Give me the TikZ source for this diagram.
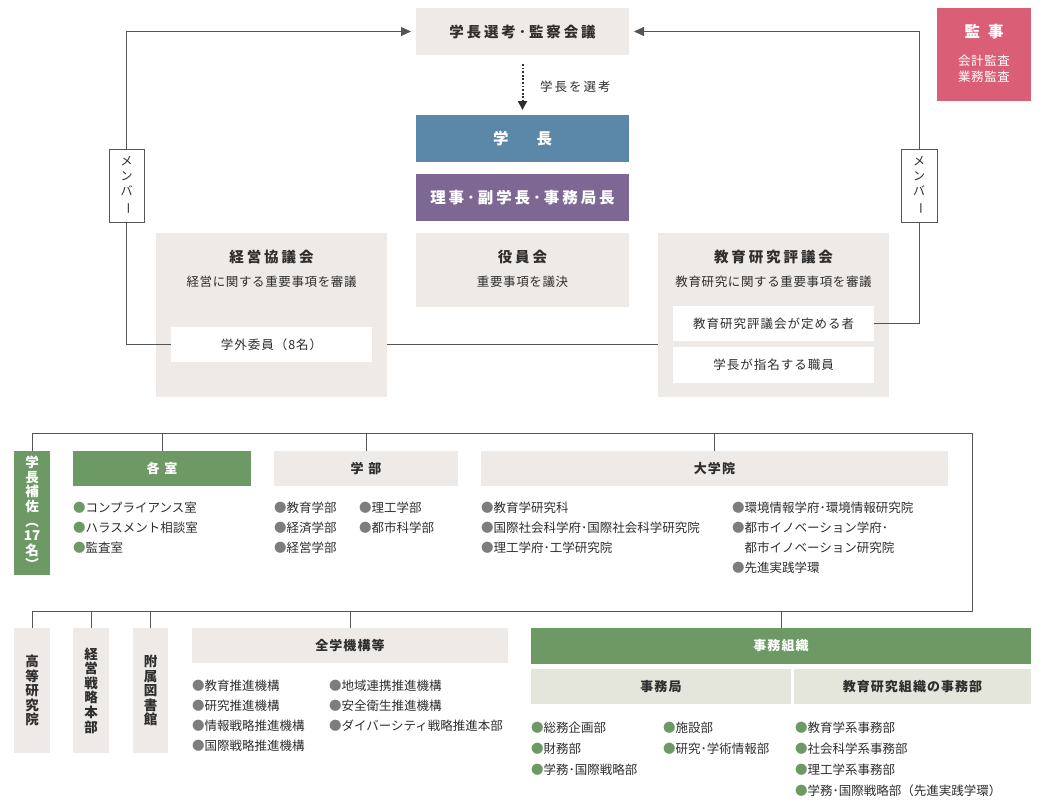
\documentclass[tikz,border=0pt]{standalone}
\usepackage{fontspec}
\usepackage{graphicx}
\setmainfont{Noto Sans CJK JP}
\usetikzlibrary{arrows.meta}
\definecolor{boxgray}{HTML}{EEEAE7}
\definecolor{ublue}{HTML}{5B87A8}
\definecolor{upurple}{HTML}{7C6893}
\definecolor{upink}{HTML}{DA5F76}
\definecolor{ugreen}{HTML}{6D9964}
\definecolor{lgreen}{HTML}{E4E5DB}
\definecolor{bgray}{HTML}{7D7D7D}
\definecolor{txt}{HTML}{2E2E2E}
\definecolor{ln}{HTML}{555555}
\newcommand\fTitle{\fontsize{14.5}{17}\selectfont\bfseries\addfontfeature{LetterSpace=20}}
\newcommand\fBig{\fontsize{15.5}{18}\selectfont\bfseries\addfontfeature{LetterSpace=19}}
\newcommand\fSub{\fontsize{12.5}{15}\selectfont\addfontfeature{LetterSpace=5}}
\newcommand\fWht{\fontsize{12.5}{15}\selectfont\addfontfeature{LetterSpace=8}}
\newcommand\fSel{\fontsize{12.5}{15}\selectfont\addfontfeature{LetterSpace=16}}
\newcommand\fHead{\fontsize{13}{15}\selectfont\bfseries\addfontfeature{LetterSpace=8}}
\newcommand\fList{\fontsize{12.5}{20}\selectfont}
\newcommand\fListB{\fontsize{12.5}{21}\selectfont}
\newcommand\fVert{\fontsize{13.5}{14.6}\selectfont\bfseries}
\newcommand\fMem{\fontsize{12}{15}\selectfont}
\newcommand\gbul{{\color{ugreen}●}}
\newcommand\kbul{{\color{bgray}●}}
\tikzset{
  base/.style={inner sep=0pt, outer sep=0pt, text=txt},
  graybox/.style={base, fill=boxgray, anchor=north west},
  whitebox/.style={base, fill=white, anchor=north west},
  lgbox/.style={base, fill=lgreen, anchor=north west},
  colbox/.style={base, fill=#1, anchor=north west, text=white},
  membox/.style={base, fill=white, draw=ln, line width=0.9pt, anchor=north west, align=center, font=\fMem},
  label/.style={base},
  listnode/.style={base, anchor=west, align=left},
  conn/.style={draw=ln, line width=1pt},
  arr/.style={conn, -{Triangle[length=10pt,width=9pt]}},
  dotarr/.style={draw=txt, line width=2pt, dash pattern=on 1.8pt off 1.8pt, -{Triangle[length=9pt,width=9pt]}},
}
\begin{document}
\begin{tikzpicture}[x=1pt,y=-1pt]
\useasboundingbox (0,0) rectangle (1059,808);
% ---------- top section ----------
\node[graybox, minimum width=213pt, minimum height=47pt, font=\fTitle] (T) at (416,8) {学長選考･監察会議};
\node[colbox=ublue, minimum width=213pt, minimum height=47pt, font=\fontsize{15.5}{18}\selectfont\bfseries] (G) at (416,115) {学\hspace{28pt}長};
\node[colbox=upurple, minimum width=213pt, minimum height=47pt, font=\fBig] (R) at (416,174) {理事･副学長･事務局長};
\node[label, anchor=west, font=\fSel] (sel) at (540,87) {学長を選考};
\draw[dotarr, shorten <=9pt, shorten >=5pt] (T.south) -- (G.north);

\node[colbox=upink, minimum width=94pt, minimum height=93pt] (kanji) at (937,8) {};
\node[label, text=white, font=\fontsize{15.5}{18}\selectfont\bfseries] (kanjiT) at (984,32) {監\hspace{8pt}事};
\node[label, text=white, font=\fSub] (kanjiA) at (984,61) {会計監査};
\node[label, text=white, font=\fSub] (kanjiB) at (984,77) {業務監査};

% 役員会
\node[graybox, minimum width=213pt, minimum height=74pt] (Y) at (416,233) {};
\node[label, font=\fTitle] (YT) at (522.5,257) {役員会};
\node[label, font=\fSub] (YS) at (522.5,282) {重要事項を議決};

% 経営協議会
\node[graybox, minimum width=231pt, minimum height=164pt] (K) at (156,233) {};
\node[label, font=\fTitle] (KT) at (271.5,257) {経営協議会};
\node[label, font=\fSub] (KS) at (271.5,282) {経営に関する重要事項を審議};
\node[whitebox, minimum width=201pt, minimum height=35pt, font=\fWht] (W1) at (171,327) {学外委員（8名）};

% 教育研究評議会
\node[graybox, minimum width=231pt, minimum height=164pt] (E) at (658,233) {};
\node[label, font=\fTitle] (ET) at (773.5,257) {教育研究評議会};
\node[label, font=\fSub] (ES) at (773.5,282) {教育研究に関する重要事項を審議};
\node[whitebox, minimum width=201pt, minimum height=35pt, font=\fWht] (EA) at (673,306) {教育研究評議会が定める者};
\node[whitebox, minimum width=201pt, minimum height=36pt, font=\fWht] (EB) at (673,347) {学長が指名する職員};

% member boxes
\node[membox, minimum width=35pt, minimum height=73pt] (memL) at (109,149) {メ\\ン\\バ\\\rotatebox[origin=c]{-90}{ー}};
\node[membox, minimum width=36pt, minimum height=73pt] (memR) at (901,149) {メ\\ン\\バ\\\rotatebox[origin=c]{-90}{ー}};

% connectors top
\draw[conn] (W1.west) -- (memL.south |- W1.west) -- (memL.south);
\draw[arr, shorten >=5pt] (memL.north) |- (T.west);
\draw[conn] (EA.east) -- (memR.south |- EA.east) -- (memR.south);
\draw[arr, shorten >=5pt] (memR.north) |- (T.east);
\draw[conn] (K.east |- W1.east) -- (E.west |- W1.east);

% ---------- middle section ----------
\node[colbox=ugreen, minimum width=36pt, minimum height=124pt, align=center, font=\fVert] (hosa) at (14,451) {学\\長\\補\\佐\\︵\\17\\名\\︶};
\node[colbox=ugreen, minimum width=178pt, minimum height=35pt, font=\fHead] (kaku) at (73,451) {各\hspace{5pt}室};
\node[graybox, minimum width=184pt, minimum height=35pt, font=\fHead] (gakubu) at (274,451) {学\hspace{5pt}部};
\node[graybox, minimum width=467pt, minimum height=35pt, font=\fHead] (dai) at (481,451) {大学院};

\node[listnode, font=\fList] (L1) at (73,528) {\gbul コンプライアンス室\\\gbul ハラスメント相談室\\\gbul 監査室};
\node[listnode, font=\fList] (L2) at (274,528) {\kbul 教育学部\\\kbul 経済学部\\\kbul 経営学部};
\node[listnode, font=\fList] (L3) at (359,518) {\kbul 理工学部\\\kbul 都市科学部};
\node[listnode, font=\fList] (L4) at (481,528) {\kbul 教育学研究科\\\kbul 国際社会科学府･国際社会科学研究院\\\kbul 理工学府･工学研究院};
\node[listnode, font=\fList] (L5) at (732,538) {\kbul 環境情報学府･環境情報研究院\\\kbul 都市イノベーション学府･\\\phantom{●}都市イノベーション研究院\\\kbul 先進実践学環};

% ---------- bottom section ----------
\node[graybox, minimum width=36pt, minimum height=125pt, align=center, font=\fVert] (koto) at (14,628) {高\\等\\研\\究\\院};
\node[graybox, minimum width=36pt, minimum height=125pt, align=center, font=\fVert] (senr) at (73,628) {経\\営\\戦\\略\\本\\部};
\node[graybox, minimum width=35pt, minimum height=125pt, align=center, font=\fVert] (fuzo) at (133,628) {附\\属\\図\\書\\館};
\node[graybox, minimum width=316pt, minimum height=35pt, font=\fHead] (zen) at (192,628) {全学機構等};
\node[colbox=ugreen, minimum width=500pt, minimum height=36pt, font=\fHead] (jimu) at (531,628) {事務組織};
\node[lgbox, minimum width=260pt, minimum height=35pt, font=\fHead] (kyoku) at (531,669) {事務局};
\node[lgbox, minimum width=237pt, minimum height=35pt, font=\fHead] (kjimu) at (794,669) {教育研究組織の事務部};

\node[listnode, font=\fList] (L6) at (192,716) {\kbul 教育推進機構\\\kbul 研究推進機構\\\kbul 情報戦略推進機構\\\kbul 国際戦略推進機構};
\node[listnode, font=\fList] (L7) at (329,706) {\kbul 地域連携推進機構\\\kbul 安全衛生推進機構\\\kbul ダイバーシティ戦略推進本部};
\node[listnode, font=\fListB] (L8) at (531,749) {\gbul 総務企画部\\\gbul 財務部\\\gbul 学務･国際戦略部};
\node[listnode, font=\fListB] (L9) at (663,738.5) {\gbul 施設部\\\gbul 研究･学術情報部};
\node[listnode, font=\fListB] (L10) at (795,759.5) {\gbul 教育学系事務部\\\gbul 社会科学系事務部\\\gbul 理工学系事務部\\\gbul 学務･国際戦略部（先進実践学環）};

% ---------- bus connectors ----------
\coordinate (b1R) at (972,433);
\coordinate (b2R) at (972,611);
\draw[conn] (hosa.north) -- (hosa.north |- b1R) -- (b1R) -- (b2R) -- (koto.north |- b2R) -- (koto.north);
\draw[conn] (kaku.north) -- (kaku.north |- b1R);
\draw[conn] (gakubu.north) -- (gakubu.north |- b1R);
\draw[conn] (dai.north) -- (dai.north |- b1R);
\draw[conn] (senr.north) -- (senr.north |- b2R);
\draw[conn] (fuzo.north) -- (fuzo.north |- b2R);
\draw[conn] (zen.north) -- (zen.north |- b2R);
\draw[conn] (jimu.north) -- (jimu.north |- b2R);
\end{tikzpicture}
\end{document}
